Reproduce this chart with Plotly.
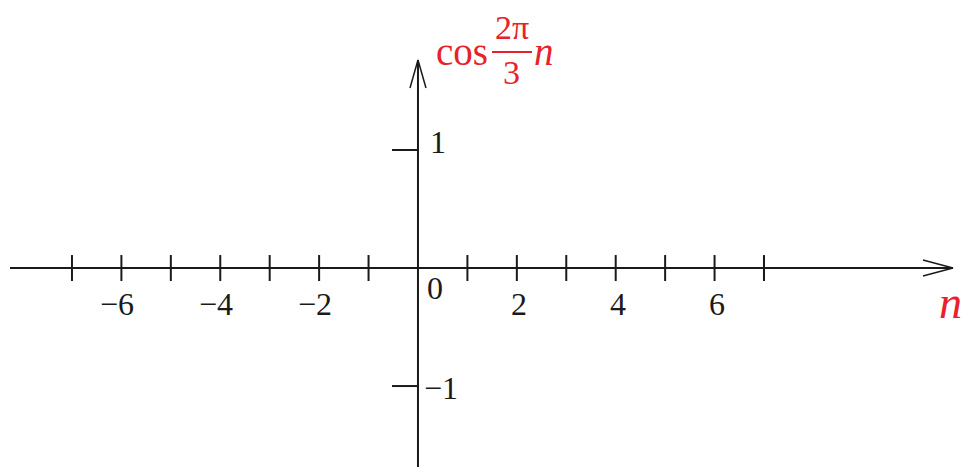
import plotly.graph_objects as go

# Sequence index ticks and value ticks
n_ticks = list(range(-7, 8))
n_labels = [-6, -4, -2, 2, 4, 6]
y_ticks = [1, -1]
y_labels = ["1", "\u22121"]

W, H = 962, 467
X_RANGE = [-8.456, 11.006]
Y_RANGE = [-1.686, 2.271]
PX = (X_RANGE[1] - X_RANGE[0]) / W   # data units per pixel, horizontal
PY = (Y_RANGE[1] - Y_RANGE[0]) / H   # data units per pixel, vertical

RED = "#e8222b"
INK = "#1a1a1a"
SERIF = "Liberation Serif"

x_start = X_RANGE[0] + 10 * PX
x_tip = 10.823
y_tip = 1.763

fig = go.Figure()

def seg(xs, ys, width=2.0):
    fig.add_trace(go.Scatter(x=xs, y=ys, mode="lines",
                             line=dict(color=INK, width=width),
                             hoverinfo="skip", showlegend=False))

# horizontal axis with open arrow head
seg([x_start, x_tip], [0, 0])
seg([x_tip - 30 * PX, x_tip, x_tip - 30 * PX], [8 * PY, 0, -8 * PY], 1.5)

# vertical axis with open arrow head
seg([0, 0], [Y_RANGE[0], y_tip])
seg([-8 * PX, 0, 8 * PX], [y_tip - 28 * PY, y_tip, y_tip - 28 * PY], 1.5)

# tick marks on the n axis
tx, ty = [], []
for n in n_ticks:
    if n == 0:
        continue
    tx += [n, n, None]
    ty += [0.11, -0.11, None]
seg(tx, ty)

# tick marks on the value axis
vx, vy = [], []
for v in y_ticks:
    vx += [-26 * PX, 0, None]
    vy += [v, v, None]
seg(vx, vy)

ann = []
for n in n_labels:
    label = str(n).replace("-", "\u2212")
    dx = -4 if n < 0 else 2
    ann.append(dict(x=n + dx * PX, y=-36 * PY, text=label, showarrow=False,
                    xref="x", yref="y", xanchor="center", yanchor="middle",
                    font=dict(family=SERIF, size=32, color=INK)))
ann.append(dict(x=17 * PX, y=-20 * PY, text="0", showarrow=False,
                xref="x", yref="y", xanchor="center", yanchor="middle",
                font=dict(family=SERIF, size=32, color=INK)))
for v, lab in zip(y_ticks, y_labels):
    ann.append(dict(x=(20 if v > 0 else 23) * PX,
                    y=v + (8 if v > 0 else -2) * PY, text=lab,
                    showarrow=False, xref="x", yref="y",
                    xanchor="center", yanchor="middle",
                    font=dict(family=SERIF, size=32, color=INK)))

# axis name n
ann.append(dict(x=x_tip - 2 * PX, y=-34 * PY, text="<i>n</i>", showarrow=False,
                xref="x", yref="y", xanchor="center", yanchor="middle",
                font=dict(family=SERIF, size=46, color=RED)))

# axis name cos(2π/3 · n) built from pieces
ty0 = y_tip + 8 * PY
ann.append(dict(x=44 * PX, y=ty0, text="cos", showarrow=False,
                xref="x", yref="y", xanchor="center", yanchor="middle",
                font=dict(family=SERIF, size=39, color=RED)))
ann.append(dict(x=94 * PX, y=ty0 + 24 * PY, text="2\u03c0", showarrow=False,
                xref="x", yref="y", xanchor="center", yanchor="middle",
                font=dict(family=SERIF, size=34, color=RED)))
ann.append(dict(x=94 * PX, y=ty0 - 21 * PY, text="3", showarrow=False,
                xref="x", yref="y", xanchor="center", yanchor="middle",
                font=dict(family=SERIF, size=34, color=RED)))
ann.append(dict(x=126 * PX, y=ty0, text="<i>n</i>", showarrow=False,
                xref="x", yref="y", xanchor="center", yanchor="middle",
                font=dict(family=SERIF, size=39, color=RED)))
fig.add_trace(go.Scatter(x=[74 * PX, 114 * PX], y=[ty0, ty0],
                         mode="lines", line=dict(color=RED, width=2),
                         hoverinfo="skip", showlegend=False))

fig.update_layout(
    width=W, height=H,
    margin=dict(l=0, r=0, t=0, b=0),
    paper_bgcolor="white", plot_bgcolor="white",
    xaxis=dict(range=X_RANGE, visible=False, fixedrange=True),
    yaxis=dict(range=Y_RANGE, visible=False, fixedrange=True),
    annotations=ann,
    showlegend=False,
)

fig.write_html("out.html", config={"displayModeBar": False})
